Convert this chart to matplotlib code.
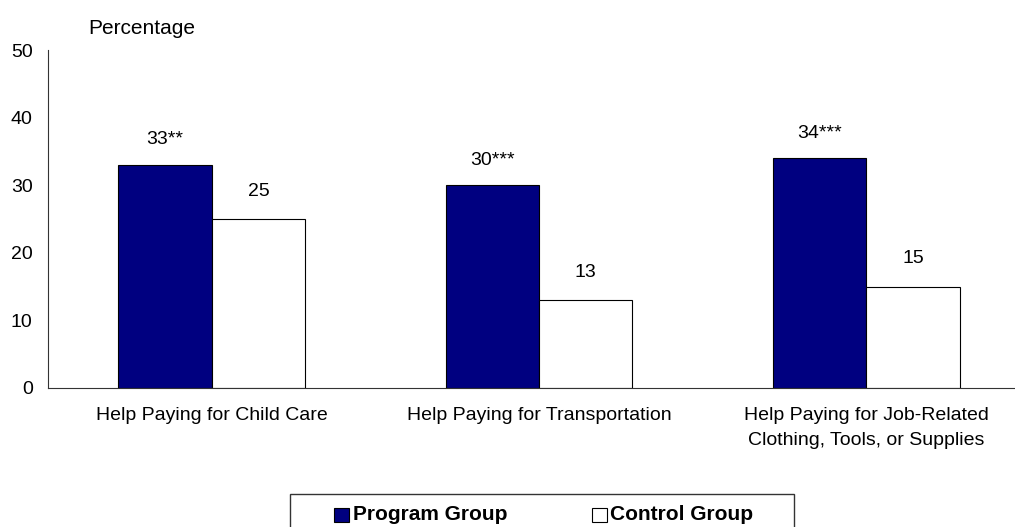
import matplotlib.pyplot as plt
from matplotlib.patches import Rectangle
import numpy as np

plt.rcParams['font.family'] = ['Liberation Sans', 'DejaVu Sans']

categories = ['Help Paying for Child Care',
              'Help Paying for Transportation',
              'Help Paying for Job-Related\nClothing, Tools, or Supplies']
program = [33, 30, 34]
control = [25, 13, 15]
program_labels = ['33**', '30***', '34***']
control_labels = ['25', '13', '15']
series_names = ['Program Group', 'Control Group']

navy = '#000080'

fig = plt.figure(figsize=(10.15, 5.27), dpi=100)
ax = fig.add_axes([48 / 1015, 139 / 527, 982 / 1015, 338 / 527])

x = np.arange(len(categories))
w = 0.2855
bp = ax.bar(x - w / 2, program, w, color=navy, edgecolor='black', linewidth=0.8)
bc = ax.bar(x + w / 2, control, w, color='white', edgecolor='black', linewidth=0.8)

for rect, lab in zip(bp, program_labels):
    ax.annotate(lab, (rect.get_x() + rect.get_width() / 2, rect.get_height()),
                xytext=(0, 18), textcoords='offset points',
                ha='center', va='center', fontsize=14)
for rect, lab in zip(bc, control_labels):
    ax.annotate(lab, (rect.get_x() + rect.get_width() / 2, rect.get_height()),
                xytext=(0, 20), textcoords='offset points',
                ha='center', va='center', fontsize=14)

ax.set_xlim(-0.5, 2.5)
ax.set_ylim(0, 50)
ax.set_yticks(range(0, 51, 10))
ax.set_xticks(x)
ax.set_xticklabels(categories, fontsize=14, va='top', linespacing=1.55)
ax.tick_params(axis='both', length=0, labelsize=14)
ax.tick_params(axis='y', pad=11)
ax.tick_params(axis='x', pad=14)
for s in ['top', 'right']:
    ax.spines[s].set_visible(False)
ax.spines['left'].set_color('#333333')
ax.spines['bottom'].set_color('#333333')

fig.text(88 / 1015, 1 - 28 / 527, 'Percentage', fontsize=15, va='center', ha='left')

# legend box, bottom runs past the figure edge
fig.patches.append(Rectangle((290 / 1015, -0.05), (794 - 290) / 1015, (527 - 494) / 527 + 0.05,
                             transform=fig.transFigure, facecolor='white',
                             edgecolor='#333333', linewidth=1))
for xs, col, name, xt in [(334, navy, series_names[0], 353), (592, 'white', series_names[1], 610)]:
    fig.patches.append(Rectangle((xs / 1015, (527 - 522) / 527), 15 / 1015, 14 / 527,
                                 transform=fig.transFigure, facecolor=col,
                                 edgecolor='black', linewidth=0.8))
    fig.text(xt / 1015, (527 - 515) / 527, name, fontsize=15, fontweight='bold',
             va='center', ha='left')

fig.savefig('out.png', dpi=100)
